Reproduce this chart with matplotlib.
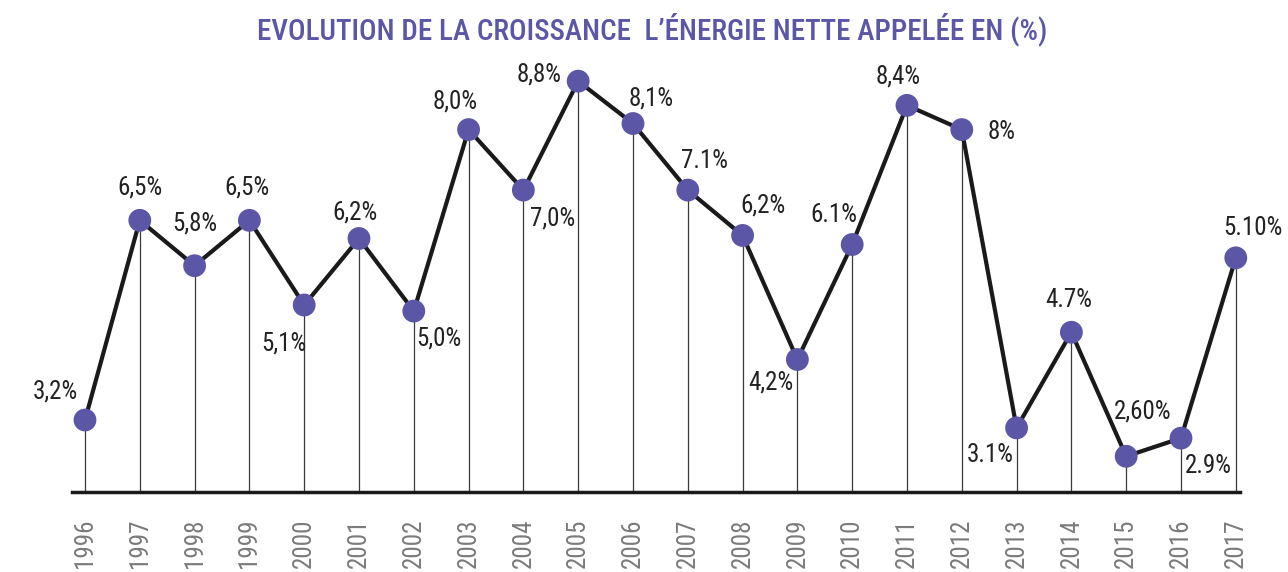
import matplotlib
matplotlib.use("Agg")
import matplotlib.pyplot as plt
from matplotlib import font_manager

years = list(range(1996, 2018))
values = [3.2, 6.5, 5.75, 6.5, 5.1, 6.2, 5.0, 8.0, 7.0, 8.8, 8.1, 7.0,
          6.25, 4.2, 6.1, 8.4, 8.0, 3.07, 4.65, 2.6, 2.9, 5.88]
labels = ["3,2%", "6,5%", "5,8%", "6,5%", "5,1%", "6,2%", "5,0%", "8,0%",
          "7,0%", "8,8%", "8,1%", "7.1%", "6,2%", "4,2%", "6.1%", "8,4%",
          "8%", "3.1%", "4.7%", "2,60%", "2.9%", "5.10%"]
title = "EVOLUTION DE LA CROISSANCE  L\u2019\u00c9NERGIE NETTE APPEL\u00c9E EN (%)"

# label offsets in pixels relative to marker (dx, dy; dy positive = up)
offsets = [(-30, 28), (0, 33), (0, 42), (-2, 33), (-20, -38), (-4, 26),
           (25, -27), (-13, 28), (29, -28), (-39, 7), (18, 25), (17, 29),
           (20, 30), (-27, -23), (-18, 30), (-9, 29), (40, -2), (-26, -27),
           (-3, 32), (17, 45), (27, -28), (17, 30)]

avail = {f.name for f in font_manager.fontManager.ttflist}
fam = "Roboto Condensed" if "Roboto Condensed" in avail else "Liberation Sans"
plt.rcParams['font.family'] = [fam, 'DejaVu Sans']

W, H = 1288, 572
fig = plt.figure(figsize=(W / 100, H / 100), dpi=100)
ax = fig.add_axes([72 / W, (H - 492) / H, (1240 - 72) / W, (492 - 60) / H])

purple = "#5B57A6"
ax.vlines(years, 2.01, values, colors="#3a3a3a", linewidth=0.9, zorder=1)
ax.plot(years, values, color="#1a1a1a", linewidth=3.0, zorder=2,
        solid_joinstyle="round", clip_on=False)
ax.scatter(years, values, s=270, color=purple, zorder=3, edgecolors="none",
           clip_on=False)

for x, v, lab, (dx, dy) in zip(years, values, labels, offsets):
    ax.annotate(lab, (x, v), xytext=(dx, dy), textcoords="offset pixels",
                ha="center", va="center", fontsize=18, color="#222222")

ax.set_xlim(1995.763, 2017.077)
ax.set_ylim(2.01, 9.15)
for s in ["top", "right", "left"]:
    ax.spines[s].set_visible(False)
ax.spines["bottom"].set_linewidth(2.5)
ax.spines["bottom"].set_color("#1a1a1a")
ax.set_yticks([])
ax.set_xticks(years)
ax.set_xticklabels([str(y) for y in years], rotation=90, fontsize=18,
                   color="#7a7a7a")
ax.tick_params(axis="x", length=0, pad=19)

fig.text(652 / W, 1 - 29 / H, title, ha="center", va="center",
         fontsize=21, color=purple, fontweight=500)

fig.savefig("out.png", dpi=100)
